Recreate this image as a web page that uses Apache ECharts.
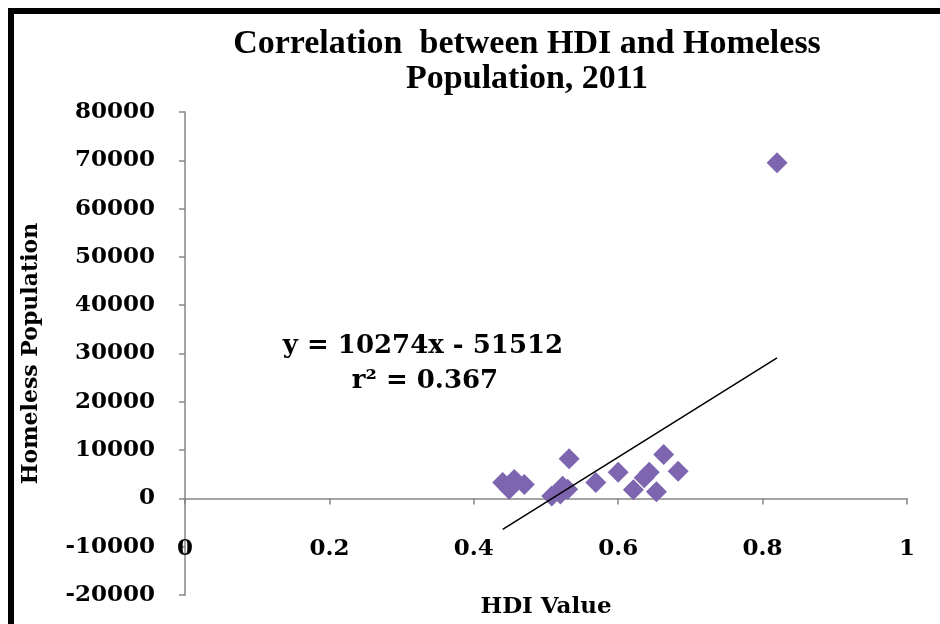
<!DOCTYPE html>
<html>
<head>
<meta charset="utf-8">
<script src="https://cdn.jsdelivr.net/npm/echarts@6/dist/echarts.min.js"></script>
<style>
html,body{margin:0;padding:0;background:#fff;}
#chart{width:940px;height:624px;}
</style>
</head>
<body>
<div id="chart"></div>
<script>
// Data
const hdiValues = [0.440, 0.449, 0.456, 0.470, 0.508, 0.520, 0.523, 0.530, 0.532, 0.569, 0.600, 0.621, 0.636, 0.643, 0.653, 0.663, 0.683, 0.820];
const homelessValues = [3300, 1900, 3900, 2900, 500, 900, 2500, 1900, 8200, 3300, 5400, 1800, 4300, 5400, 1400, 9100, 5600, 69500];
const trendX = [0.44, 0.82];
const trendY = [-6400, 29100];
const yTicks = { min: -20000, max: 80000, interval: 10000 };
const xTicks = { min: 0, max: 1, interval: 0.2 };
const titleText = 'Correlation  between HDI and Homeless\nPopulation, 2011';
const equationText = 'y = 10274x - 51512';
const r2Text = 'r² = 0.367';
const xName = 'HDI Value';
const yName = 'Homeless Population';

const points = hdiValues.map((x, i) => [x, homelessValues[i]]);
const trend = trendX.map((x, i) => [x, trendY[i]]);

const serif = 'DejaVu Serif';
const chart = echarts.init(document.getElementById('chart'), null, { renderer: 'canvas' });
chart.setOption({
  animation: false,
  backgroundColor: '#ffffff',
  title: {
    text: titleText,
    left: 522,
    textAlign: 'center',
    top: 22,
    textStyle: { fontFamily: 'Liberation Serif', fontWeight: 'bold', fontSize: 34, lineHeight: 35, color: '#000' }
  },
  grid: { left: 185, right: 33, top: 112, bottom: 29, containLabel: false, outerBoundsMode: 'none' },
  xAxis: {
    type: 'value',
    min: xTicks.min, max: xTicks.max, interval: xTicks.interval,
    name: xName, nameLocation: 'middle', nameGap: 1,
    nameTextStyle: { fontFamily: serif, fontWeight: 'bold', fontSize: 23, color: '#000' },
    axisLine: { onZero: true, lineStyle: { color: '#868686', width: 1.5 } },
    axisTick: { show: true, length: 6, lineStyle: { color: '#868686', width: 1.5 } },
    axisLabel: { margin: -57, fontFamily: serif, fontWeight: 'bold', fontSize: 23, color: '#000',
      formatter: v => String(Math.round(v * 10) / 10) },
    splitLine: { show: false }
  },
  yAxis: {
    type: 'value',
    min: yTicks.min, max: yTicks.max, interval: yTicks.interval,
    name: yName, nameLocation: 'middle', nameGap: 143, nameRotate: 90,
    nameTextStyle: { fontFamily: serif, fontWeight: 'bold', fontSize: 22, color: '#000' },
    axisLine: { show: true, onZero: false, lineStyle: { color: '#868686', width: 1.5 } },
    axisTick: { show: true, length: 6, lineStyle: { color: '#868686', width: 1.5 } },
    axisLabel: { margin: 30, fontFamily: serif, fontWeight: 'bold', fontSize: 23, color: '#000',
      formatter: v => String(v) },
    splitLine: { show: false }
  },
  series: [
    {
      type: 'scatter',
      data: points,
      symbol: 'diamond',
      symbolSize: 21,
      itemStyle: { color: '#7e65b0', opacity: 1 },
      z: 2
    },
    {
      type: 'line',
      data: trend,
      symbol: 'none',
      lineStyle: { color: '#000', width: 1.5 },
      z: 3
    }
  ],
  graphic: [
    { type: 'rect', shape: { x: 8, y: 8, width: 932, height: 6 }, style: { fill: '#000' } },
    { type: 'rect', shape: { x: 8, y: 8, width: 6, height: 616 }, style: { fill: '#000' } },
    { type: 'text', x: 423, y: 346, style: { text: equationText, fontFamily: serif, fontWeight: 'bold', fontSize: 26, fill: '#000', align: 'center', verticalAlign: 'middle' } },
    { type: 'text', x: 425, y: 381, style: { text: r2Text, fontFamily: serif, fontWeight: 'bold', fontSize: 26, fill: '#000', align: 'center', verticalAlign: 'middle' } }
  ]
});
</script>
</body>
</html>
